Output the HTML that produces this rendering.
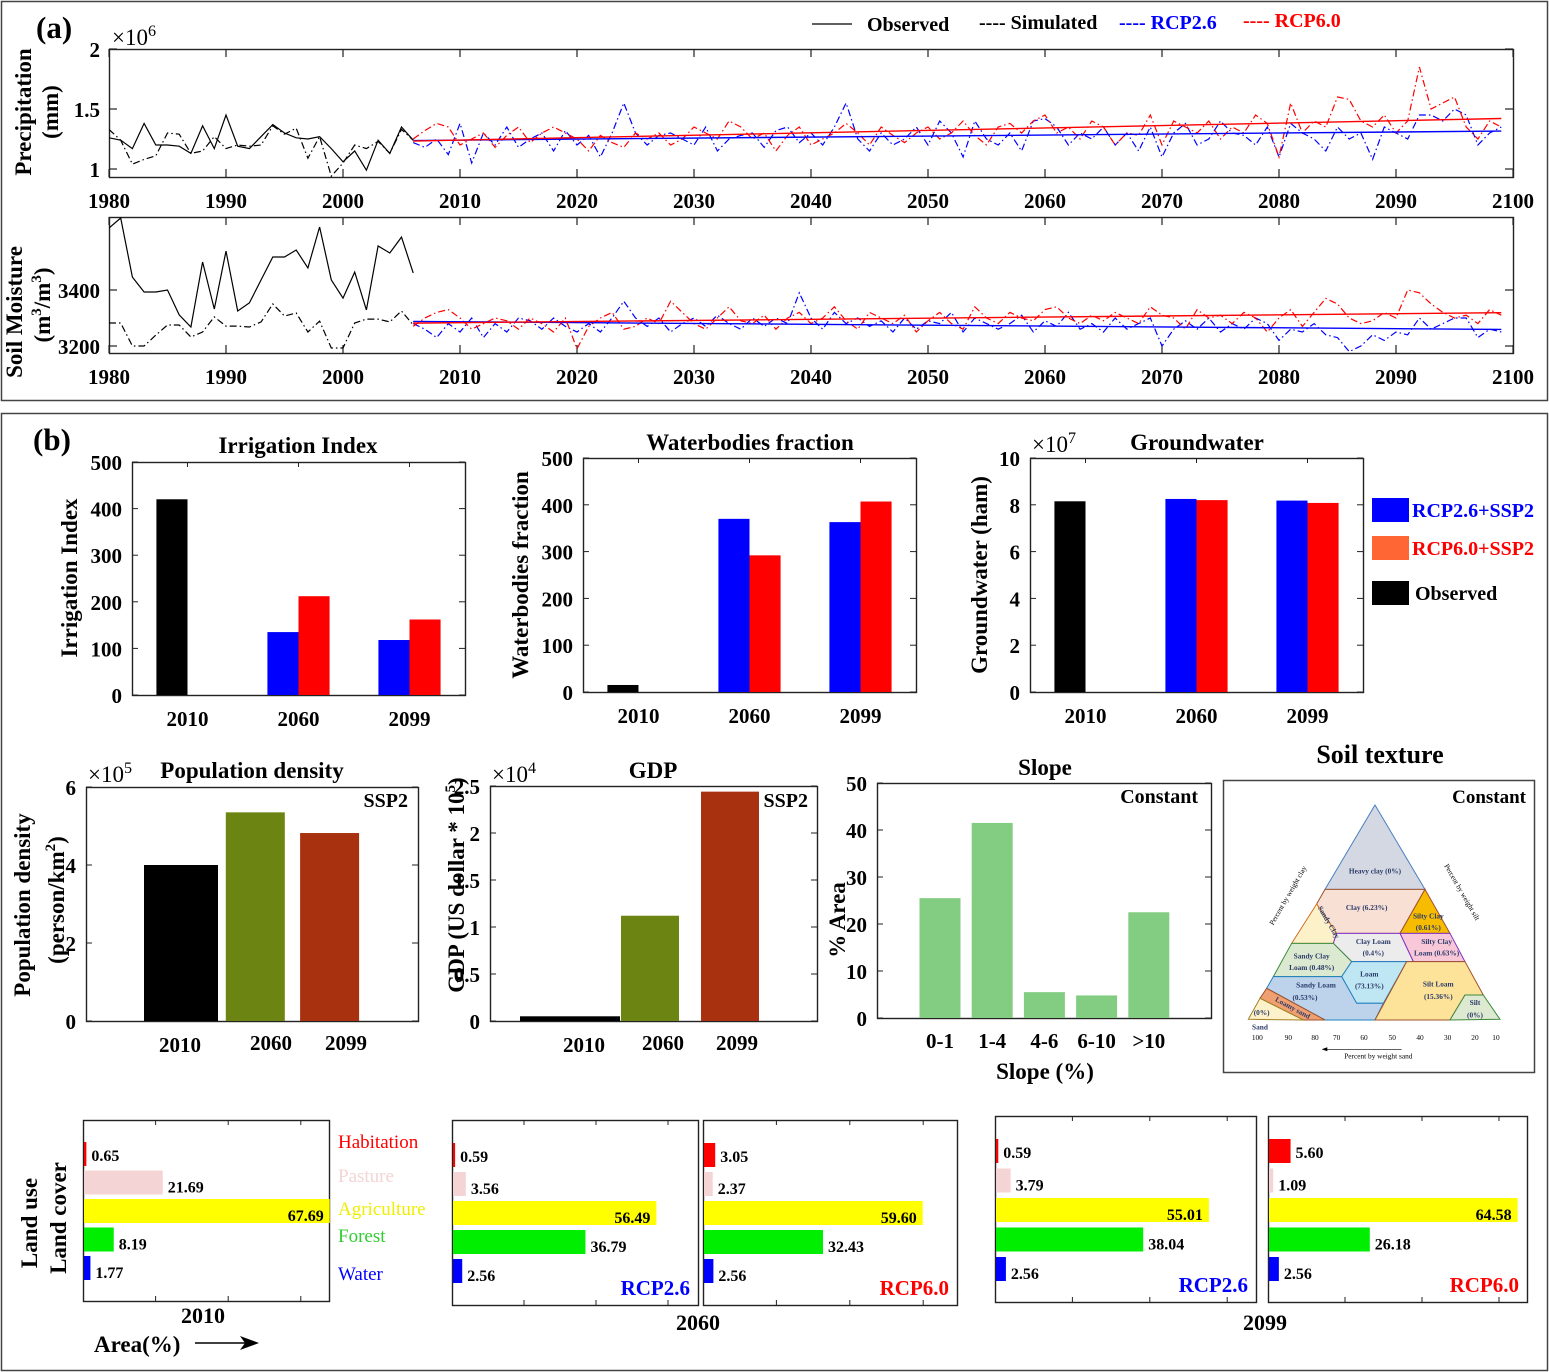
<!DOCTYPE html>
<html><head><meta charset="utf-8">
<style>
html,body{margin:0;padding:0;background:#fff;}
svg{display:block;font-family:"Liberation Serif",serif;}
</style></head>
<body>
<svg id="fig" xmlns="http://www.w3.org/2000/svg" width="1549" height="1372" viewBox="0 0 1549 1372">
<rect x="0" y="0" width="1549" height="1372" fill="#fff"/>
<rect x="1.5" y="1.5" width="1546" height="399" fill="none" stroke="#444" stroke-width="1.5"/>
<rect x="1.5" y="413.5" width="1546" height="957" fill="none" stroke="#444" stroke-width="1.5"/>
<text x="36" y="38" font-size="31" font-weight="bold">(a)</text>
<text x="33" y="450" font-size="31" font-weight="bold">(b)</text>

<g font-size="20" font-weight="bold">
<line x1="812" y1="24" x2="852" y2="24" stroke="#000" stroke-width="1.3"/>
<text x="867" y="31">Observed</text>
<text x="979" y="29">---- Simulated</text>
<text x="1119" y="29" fill="#0000ff">---- RCP2.6</text>
<text x="1243" y="27" fill="#ff0000">---- RCP6.0</text>
</g>

<!-- Soil texture triangle -->
<rect x="1223.5" y="780.5" width="311" height="292" fill="none" stroke="#444" stroke-width="1.5"/>
<text x="1380" y="763" font-size="26" font-weight="bold" text-anchor="middle">Soil texture</text>
<text x="1526" y="803" font-size="19" font-weight="bold" text-anchor="end">Constant</text>
<g transform="translate(1220,780) scale(0.3333)" stroke-width="3">
<polygon points="465,75 315,328 615,328" fill="#d3d8e2" stroke="#4a7fc0"/>
<polygon points="315,328 615,328 540,460 350,460 290,372" fill="#f8e0d4" stroke="#a0522d"/>
<polygon points="290,372 350,460 340,490 215,490" fill="#fdf1c9" stroke="#d07020"/>
<polygon points="615,328 690,460 540,460" fill="#f7bc00" stroke="#a0522d"/>
<polygon points="540,460 690,460 735,545 580,545" fill="#f8c8d8" stroke="#8030c0"/>
<polygon points="350,460 540,460 580,545 395,545 340,490" fill="#ececec" stroke="#8030c0"/>
<polygon points="215,490 340,490 395,545 365,590 160,590" fill="#dbe9d0" stroke="#3a8a3a"/>
<polygon points="395,545 560,545 490,670 410,670 365,590" fill="#bfe6f3" stroke="#2080c0"/>
<polygon points="160,590 365,590 410,670 490,670 465,720 315,720 140,625" fill="#bdd3ec" stroke="#2080c0"/>
<polygon points="140,625 315,720 250,720 120,655" fill="#f0a070" stroke="#a0522d"/>
<polygon points="120,655 250,720 85,718" fill="#fdf1c9" stroke="#a08020"/>
<polygon points="560,545 735,545 790,645 735,645 690,720 465,720" fill="#fde39a" stroke="#a0522d"/>
<polygon points="735,645 790,645 840,718 690,720" fill="#dde9d0" stroke="#3a8a3a"/>
<g font-size="22" font-weight="bold" fill="#2a3a6a" text-anchor="middle" stroke="none">
<text x="465" y="280">Heavy clay (0%)</text>
<text x="440" y="390">Clay (6.23%)</text>
<text x="625" y="415">Silty Clay</text>
<text x="625" y="450">(0.61%)</text>
<text x="460" y="492">Clay Loam</text>
<text x="460" y="527">(0.4%)</text>
<text x="650" y="492">Silty Clay</text>
<text x="650" y="527">Loam (0.63%)</text>
<text x="275" y="535">Sandy Clay</text>
<text x="275" y="570">Loam (0.48%)</text>
<text x="448" y="590">Loam</text>
<text x="448" y="625">(73.13%)</text>
<text x="288" y="622">Sandy Loam</text>
<text x="255" y="660">(0.53%)</text>
<text x="655" y="620">Silt Loam</text>
<text x="655" y="657">(15.36%)</text>
<text x="765" y="675">Silt</text>
<text x="765" y="712">(0%)</text>
<text x="120" y="748">Sand</text>
<text x="125" y="705">(0%)</text>
<text x="215" y="690" transform="rotate(28 215 690)">Loamy sand</text>
<text x="320" y="430" transform="rotate(60 320 430)">Sandy Clay</text>
</g>
<g font-size="22" fill="#000" stroke="none" text-anchor="middle">
<text x="112" y="780">100</text>
<text x="205" y="780">90</text>
<text x="285" y="780">80</text>
<text x="350" y="780">70</text>
<text x="432" y="780">60</text>
<text x="517" y="780">50</text>
<text x="600" y="780">40</text>
<text x="683" y="780">30</text>
<text x="765" y="780">20</text>
<text x="828" y="780">10</text>
<text x="475" y="835">Percent by weight sand</text>
<text x="210" y="350" transform="rotate(-60 210 350)">Percent by weight clay</text>
<text x="720" y="340" transform="rotate(60 720 340)">Percent by weight silt</text>
</g>
<line x1="545" y1="808" x2="315" y2="808" stroke="#000" stroke-width="2"/>
<polygon points="305,808 322,802 322,814" fill="#000" stroke="none"/>
</g>
</svg>
<script>
// ---------- DATA ----------
const obsYears = [1980,1981,1982,1983,1984,1985,1986,1987,1988,1989,1990,1991,1992,1993,1994,1995,1996,1997,1998,1999,2000,2001,2002,2003,2004,2005,2006];
const precipObserved = [1.26,1.24,1.17,1.38,1.20,1.20,1.19,1.13,1.36,1.17,1.45,1.19,1.17,1.27,1.37,1.30,1.26,1.25,1.27,1.17,1.06,1.15,0.99,1.24,1.13,1.35,1.24];
const precipSimulated = [1.33,1.24,1.04,1.08,1.11,1.30,1.29,1.13,1.15,1.27,1.17,1.20,1.19,1.20,1.36,1.29,1.34,1.09,1.27,0.94,1.05,1.20,1.17,1.23,1.13,1.33,1.24];
const futStartYear = 2006;
const precipRcp26 = [1.22,1.18,1.25,1.12,1.38,1.05,1.30,1.20,1.35,1.18,
1.25,1.30,1.15,1.32,1.20,1.28,1.10,1.30,1.55,1.30,
1.20,1.28,1.30,1.25,1.20,1.35,1.15,1.25,1.28,1.30,
1.18,1.32,1.35,1.22,1.30,1.20,1.35,1.55,1.25,1.15,
1.30,1.20,1.25,1.35,1.20,1.40,1.30,1.10,1.40,1.25,
1.20,1.30,1.15,1.40,1.42,1.35,1.20,1.30,1.25,1.35,
1.20,1.30,1.15,1.35,1.10,1.30,1.38,1.20,1.25,1.40,
1.30,1.28,1.20,1.35,1.10,1.38,1.30,1.25,1.15,1.35,
1.25,1.30,1.08,1.35,1.30,1.25,1.45,1.45,1.40,1.50,
1.45,1.20,1.30,1.35];
const precipRcp60 = [1.25,1.32,1.38,1.35,1.20,1.25,1.30,1.18,1.28,1.35,
1.22,1.30,1.35,1.30,1.25,1.15,1.28,1.22,1.18,1.30,
1.25,1.30,1.20,1.25,1.35,1.30,1.25,1.40,1.35,1.25,
1.30,1.15,1.28,1.35,1.20,1.25,1.30,1.38,1.30,1.20,
1.35,1.28,1.22,1.30,1.35,1.25,1.30,1.40,1.28,1.20,
1.35,1.38,1.30,1.40,1.45,1.30,1.35,1.25,1.40,1.35,
1.20,1.30,1.28,1.45,1.20,1.40,1.35,1.30,1.40,1.25,
1.35,1.30,1.45,1.38,1.10,1.55,1.30,1.40,1.35,1.60,
1.58,1.40,1.35,1.45,1.30,1.40,1.85,1.50,1.55,1.60,
1.35,1.25,1.40,1.35];
const soilObserved = [3621,3657,3446,3393,3393,3400,3311,3268,3500,3332,3539,3325,3354,3436,3518,3518,3543,3479,3625,3436,3371,3464,3329,3557,3532,3589,3461];
const soilSimulated = [3282,3282,3200,3200,3239,3275,3275,3232,3250,3304,3271,3271,3268,3286,3350,3307,3318,3250,3289,3193,3193,3282,3296,3296,3286,3325,3275];
const soilRcp26 = [3280,3260,3230,3280,3250,3300,3230,3280,3250,3300,
3290,3260,3300,3270,3250,3280,3250,3300,3360,3300,
3270,3300,3250,3280,3300,3270,3310,3280,3260,3300,
3270,3300,3280,3390,3300,3260,3320,3280,3300,3270,
3290,3250,3300,3260,3290,3280,3320,3250,3300,3280,
3260,3280,3310,3250,3290,3270,3320,3260,3280,3250,
3300,3260,3280,3300,3200,3260,3290,3260,3300,3250,
3280,3260,3300,3280,3220,3260,3250,3280,3240,3230,
3180,3200,3240,3220,3250,3240,3300,3260,3280,3300,
3300,3230,3260,3250];
const soilRcp60 = [3270,3300,3320,3330,3300,3260,3280,3300,3290,3260,
3300,3280,3250,3300,3190,3270,3300,3320,3260,3270,
3300,3280,3360,3320,3280,3260,3300,3340,3290,3280,
3310,3260,3300,3320,3280,3300,3340,3290,3260,3320,
3300,3280,3310,3250,3290,3320,3280,3260,3340,3300,
3280,3320,3300,3290,3330,3340,3300,3280,3310,3290,
3320,3300,3280,3340,3310,3300,3260,3330,3300,3310,
3280,3320,3300,3250,3300,3330,3270,3320,3370,3350,
3300,3280,3290,3320,3300,3400,3390,3350,3320,3300,
3310,3280,3330,3310];
const yearTicks = [1980,1990,2000,2010,2020,2030,2040,2050,2060,2070,2080,2090,2100];
const precipTicks = [1,1.5,2];
const precipTickLabels = ["1","1.5","2"];
const soilTicks = [3200,3400];

const barCats = ["2010","2060","2099"];
const irrObserved = [420,null,null];
const irrRcp26 = [null,135,118];
const irrRcp60 = [null,212,162];
const irrTicks = [0,100,200,300,400,500];
const wbObserved = [15,null,null];
const wbRcp26 = [null,370,363];
const wbRcp60 = [null,292,407];
const wbTicks = [0,100,200,300,400,500];
const gwObserved = [8.15,null,null];
const gwRcp26 = [null,8.25,8.18];
const gwRcp60 = [null,8.2,8.08];
const gwTicks = [0,2,4,6,8,10];
const popValues = [4.0,5.35,4.82];
const popTicks = [0,2,4,6];
const gdpValues = [0.05,1.12,2.44];
const gdpTicks = [0,0.5,1,1.5,2,2.5];
const gdpTickLabels = ["0","0.5","1","1.5","2","2.5"];
const slopeCats = ["0-1","1-4","4-6","6-10",">10"];
const slopeValues = [25.5,41.5,5.5,4.8,22.5];
const slopeTicks = [0,10,20,30,40,50];

const luClasses = ["Habitation","Pasture","Agriculture","Forest","Water"];
const lu2010 = [0.65,21.69,67.69,8.19,1.77];
const lu2060Rcp26 = [0.59,3.56,56.49,36.79,2.56];
const lu2060Rcp60 = [3.05,2.37,59.60,32.43,2.56];
const lu2099Rcp26 = [0.59,3.79,55.01,38.04,2.56];
const lu2099Rcp60 = [5.60,1.09,64.58,26.18,2.56];
const luLabels2010 = ["0.65","21.69","67.69","8.19","1.77"];
const luLabels2060Rcp26 = ["0.59","3.56","56.49","36.79","2.56"];
const luLabels2060Rcp60 = ["3.05","2.37","59.60","32.43","2.56"];
const luLabels2099Rcp26 = ["0.59","3.79","55.01","38.04","2.56"];
const luLabels2099Rcp60 = ["5.60","1.09","64.58","26.18","2.56"];

// ---------- HELPERS ----------
const NS = "http://www.w3.org/2000/svg";
const svg = document.getElementById("fig");
function mk(tag, attrs, name, parent) {
  const el = document.createElementNS(NS, tag);
  for (const k in attrs) el.setAttribute(k, attrs[k]);
  
  
  (parent || svg).appendChild(el);
  return el;
}
function txt(x, y, s, attrs, name, parent) {
  const a = Object.assign({x: x, y: y, "font-weight": "bold", "font-size": 21}, attrs || {});
  const el = mk("text", a, name, parent);
  el.textContent = s;
  return el;
}
function frame(x0, y0, x1, y1, name) {
  mk("rect", {x: x0 + .5, y: y0 + .5, width: x1 - x0, height: y1 - y0, fill: "none", stroke: "#222", "stroke-width": 1.4}, name);
}
function sup(el, base, supTxt) {
  el.textContent = "";
  const t1 = document.createElementNS(NS, "tspan"); t1.textContent = base; el.appendChild(t1);
  const t2 = document.createElementNS(NS, "tspan"); t2.textContent = supTxt;
  t2.setAttribute("dy", "-9"); t2.setAttribute("font-size", "0.7em"); el.appendChild(t2);
}

// ---------- PANEL (a) ----------
const AX0 = 109, AX1 = 1513;
const xYear = y => AX0 + (y - 1980) * (AX1 - AX0) / 120;
const yPrec = v => 169 - (v - 1) * 120;
const ySoil = v => 290 - (v - 3400) * 0.28;

function tsAxes(top, bot, yfun, ticks, labels, prefix, labelY) {
  frame(AX0, top, AX1, bot, prefix + "-axes-frame");
  yearTicks.forEach(yr => {
    const x = xYear(yr);
    mk("line", {x1: x, y1: bot, x2: x, y2: bot - 8, stroke: "#222", "stroke-width": 1.2}, prefix + "-xtick", null);
    mk("line", {x1: x, y1: top, x2: x, y2: top + 8, stroke: "#222", "stroke-width": 1.2}, prefix + "-xtick-top", null);
    txt(x, labelY, String(yr), {"text-anchor": "middle", "font-size": 21}, prefix + "-xtick-label-" + yr);
  });
  ticks.forEach((t, i) => {
    const y = yfun(t);
    mk("line", {x1: AX0, y1: y, x2: AX0 + 8, y2: y, stroke: "#222", "stroke-width": 1.2}, prefix + "-ytick", null);
    mk("line", {x1: AX1, y1: y, x2: AX1 - 8, y2: y, stroke: "#222", "stroke-width": 1.2}, prefix + "-ytick-right", null);
    txt(100, y + 8, labels[i], {"text-anchor": "end", "font-size": 21}, prefix + "-ytick-label-" + labels[i]);
  });
}
function series(years, vals, yfun, style, name, clip) {
  const pts = vals.map((v, i) => xYear(years(i)) + "," + yfun(v).toFixed(1)).join(" ");
  const a = Object.assign({points: pts, fill: "none", "stroke-width": 1.2, "clip-path": clip}, style);
  mk("polyline", a, name);
}
function trend(vals, yfun, color, name, clip) {
  const n = vals.length; let sx = 0, sy = 0, sxx = 0, sxy = 0;
  vals.forEach((v, i) => { const x = futStartYear + i; sx += x; sy += v; sxx += x * x; sxy += x * v; });
  const b = (n * sxy - sx * sy) / (n * sxx - sx * sx); const a = (sy - b * sx) / n;
  const x1 = futStartYear, x2 = futStartYear + n - 1;
  mk("line", {x1: xYear(x1), y1: yfun(a + b * x1), x2: xYear(x2), y2: yfun(a + b * x2), stroke: color, "stroke-width": 1.4, "clip-path": clip}, name);
}
const defs = mk("defs", {}, "defs");
const cp1 = mk("clipPath", {id: "clipP"}, "precip-clip", defs);
mk("rect", {x: AX0, y: 50, width: AX1 - AX0, height: 127}, "precip-clip-rect", cp1);
const cp2 = mk("clipPath", {id: "clipS"}, "soil-clip", defs);
mk("rect", {x: AX0, y: 217, width: AX1 - AX0, height: 136}, "soil-clip-rect", cp2);

tsAxes(49, 177, yPrec, precipTicks, precipTickLabels, "precip", 208);
tsAxes(217, 353, ySoil, soilTicks, soilTicks.map(String), "soil", 384);

const obsY = i => obsYears[i];
const futY = i => futStartYear + i;
const dashDot = "7,3,1.5,3";
series(futY, precipRcp26, yPrec, {stroke: "#0000ff", "stroke-dasharray": dashDot}, "precip-rcp26-line", "url(#clipP)");
series(futY, precipRcp60, yPrec, {stroke: "#ff0000", "stroke-dasharray": dashDot}, "precip-rcp60-line", "url(#clipP)");
trend(precipRcp26, yPrec, "#0000ff", "precip-rcp26-trend", "url(#clipP)");
trend(precipRcp60, yPrec, "#ff0000", "precip-rcp60-trend", "url(#clipP)");
series(obsY, precipSimulated, yPrec, {stroke: "#000", "stroke-dasharray": dashDot}, "precip-simulated-line", "url(#clipP)");
series(obsY, precipObserved, yPrec, {stroke: "#000"}, "precip-observed-line", "url(#clipP)");
series(futY, soilRcp26, ySoil, {stroke: "#0000ff", "stroke-dasharray": dashDot}, "soil-rcp26-line", "url(#clipS)");
series(futY, soilRcp60, ySoil, {stroke: "#ff0000", "stroke-dasharray": dashDot}, "soil-rcp60-line", "url(#clipS)");
trend(soilRcp26, ySoil, "#0000ff", "soil-rcp26-trend", "url(#clipS)");
trend(soilRcp60, ySoil, "#ff0000", "soil-rcp60-trend", "url(#clipS)");
series(obsY, soilSimulated, ySoil, {stroke: "#000", "stroke-dasharray": dashDot}, "soil-simulated-line", "url(#clipS)");
series(obsY, soilObserved, ySoil, {stroke: "#000"}, "soil-observed-line", "url(#clipS)");

const e6 = txt(112, 45, "", {"font-weight": "normal", "font-size": 23}, "precip-exponent");
sup(e6, "×10", "6");
txt(0, 0, "Precipitation", {"text-anchor": "middle", "font-size": 23, transform: "translate(31,112) rotate(-90)"}, "precip-y-title");
txt(0, 0, "(mm)", {"text-anchor": "middle", "font-size": 23, transform: "translate(58,112) rotate(-90)"}, "precip-y-unit");
txt(0, 0, "Soil Moisture", {"text-anchor": "middle", "font-size": 23, transform: "translate(22,312) rotate(-90)"}, "soil-y-title");
const su = txt(0, 0, "", {"text-anchor": "middle", "font-size": 23, transform: "translate(50,305) rotate(-90)"}, "soil-y-unit");
su.innerHTML = '(m<tspan dy="-9" font-size="15">3</tspan><tspan dy="9">/m</tspan><tspan dy="-9" font-size="15">3</tspan><tspan dy="9">)</tspan>';

// ---------- PANEL (b) bar charts ----------
function barAxes(x0, y0, x1, y1, ymax, ticks, tickLabels, prefix) {
  frame(x0, y0, x1, y1, prefix + "-axes-frame");
  const ys = v => y1 - v / ymax * (y1 - y0);
  ticks.forEach((t, i) => {
    const y = ys(t);
    mk("line", {x1: x0, y1: y, x2: x0 + 6, y2: y, stroke: "#222"}, prefix + "-ytick");
    mk("line", {x1: x1, y1: y, x2: x1 - 6, y2: y, stroke: "#222"}, prefix + "-ytick-right");
    txt(x0 - 10, y + 8, tickLabels[i], {"text-anchor": "end", "font-size": 21}, prefix + "-ytick-label");
  });
  return ys;
}
function groupedChart(x0, y0, x1, y1, ymax, ticks, obs, r26, r60, prefix, catY) {
  const ys = barAxes(x0, y0, x1, y1, ymax, ticks, ticks.map(String), prefix);
  const step = (x1 - x0) / barCats.length;
  const bw = step * 0.28;
  const cx = i => x0 + (i + 0.5) * step;
  barCats.forEach((c, i) => {
    mk("line", {x1: cx(i), y1: y0, x2: cx(i), y2: y0 + 5, stroke: "#222"}, prefix + "-xtick");
    txt(cx(i), catY, c, {"text-anchor": "middle", "font-size": 21}, prefix + "-cat-label-" + c);
    if (obs[i] != null) mk("rect", {x: cx(i) - bw, y: ys(obs[i]), width: bw, height: y1 - ys(obs[i]), fill: "#000"}, prefix + "-bar-observed-" + c);
    if (r26[i] != null) mk("rect", {x: cx(i) - bw, y: ys(r26[i]), width: bw, height: y1 - ys(r26[i]), fill: "#0000ff"}, prefix + "-bar-rcp26-" + c);
    if (r60[i] != null) mk("rect", {x: cx(i), y: ys(r60[i]), width: bw, height: y1 - ys(r60[i]), fill: "#ff0000"}, prefix + "-bar-rcp60-" + c);
  });
}
groupedChart(132, 462, 465, 695, 500, irrTicks, irrObserved, irrRcp26, irrRcp60, "irrigation", 726);
txt(298, 453, "Irrigation Index", {"text-anchor": "middle", "font-size": 23}, "irrigation-title");
txt(0, 0, "Irrigation Index", {"text-anchor": "middle", "font-size": 23, transform: "translate(77,578) rotate(-90)"}, "irrigation-y-title");

groupedChart(583, 458, 916, 692, 500, wbTicks, wbObserved, wbRcp26, wbRcp60, "waterbodies", 723);
txt(750, 450, "Waterbodies fraction", {"text-anchor": "middle", "font-size": 23}, "waterbodies-title");
txt(0, 0, "Waterbodies fraction", {"text-anchor": "middle", "font-size": 23, transform: "translate(528,575) rotate(-90)"}, "waterbodies-y-title");

groupedChart(1030, 458, 1363, 692, 10, gwTicks, gwObserved, gwRcp26, gwRcp60, "groundwater", 723);
txt(1197, 450, "Groundwater", {"text-anchor": "middle", "font-size": 23}, "groundwater-title");
const e7 = txt(1032, 452, "", {"font-weight": "normal", "font-size": 23}, "groundwater-exponent"); sup(e7, "×10", "7");
txt(0, 0, "Groundwater (ham)", {"text-anchor": "middle", "font-size": 23, transform: "translate(987,575) rotate(-90)"}, "groundwater-y-title");

// legend for grouped bars
mk("rect", {x: 1372, y: 498, width: 37, height: 24, fill: "#0000ff"}, "legend-rcp26-ssp2-swatch");
txt(1412, 517, "RCP2.6+SSP2", {fill: "#0000ff", "font-size": 20}, "legend-rcp26-ssp2");
mk("rect", {x: 1372, y: 536, width: 37, height: 24, fill: "#ff6633"}, "legend-rcp60-ssp2-swatch");
txt(1412, 555, "RCP6.0+SSP2", {fill: "#ff0000", "font-size": 20}, "legend-rcp60-ssp2");
mk("rect", {x: 1372, y: 581, width: 37, height: 24, fill: "#000"}, "legend-observed-swatch");
txt(1415, 600, "Observed", {"font-size": 20}, "legend-observed-bar");

// Population density
const barColors = ["#000000", "#6b8412", "#a83210"];
(function () {
  const x0 = 86, y0 = 787, x1 = 418, y1 = 1021;
  const ys = barAxes(x0, y0, x1, y1, 6, popTicks, popTicks.map(String), "population");
  const cx = i => 181 + i * 74.3;
  const bw = i => i === 0 ? 74 : 59;
  barCats.forEach((c, i) => {
    mk("rect", {x: cx(i) - bw(i) / 2, y: ys(popValues[i]), width: bw(i), height: y1 - ys(popValues[i]), fill: barColors[i]}, "population-bar-" + c);
  });
  txt(180, 1052, "2010", {"text-anchor": "middle"}, "population-cat-2010");
  txt(271, 1050, "2060", {"text-anchor": "middle"}, "population-cat-2060");
  txt(346, 1050, "2099", {"text-anchor": "middle"}, "population-cat-2099");
  txt(408, 807, "SSP2", {"text-anchor": "end", "font-size": 20}, "population-ssp2-label");
})();
txt(252, 778, "Population density", {"text-anchor": "middle", "font-size": 23}, "population-title");
const e5 = txt(88, 782, "", {"font-weight": "normal", "font-size": 23}, "population-exponent"); sup(e5, "×10", "5");
txt(0, 0, "Population density", {"text-anchor": "middle", "font-size": 23, transform: "translate(30,905) rotate(-90)"}, "population-y-title");
const pu = txt(0, 0, "", {"text-anchor": "middle", "font-size": 23, transform: "translate(64,900) rotate(-90)"}, "population-y-unit");
pu.innerHTML = '(person/km<tspan dy="-9" font-size="15">2</tspan><tspan dy="9">)</tspan>';

// GDP
(function () {
  const x0 = 490, y0 = 786, x1 = 817, y1 = 1021;
  const ys = barAxes(x0, y0, x1, y1, 2.5, gdpTicks, gdpTickLabels, "gdp");
  const cx = i => 570 + i * 80;
  const bw = i => i === 0 ? 100 : 58;
  barCats.forEach((c, i) => {
    mk("rect", {x: cx(i) - bw(i) / 2, y: ys(gdpValues[i]), width: bw(i), height: y1 - ys(gdpValues[i]), fill: barColors[i]}, "gdp-bar-" + c);
  });
  txt(584, 1052, "2010", {"text-anchor": "middle"}, "gdp-cat-2010");
  txt(663, 1050, "2060", {"text-anchor": "middle"}, "gdp-cat-2060");
  txt(737, 1050, "2099", {"text-anchor": "middle"}, "gdp-cat-2099");
  txt(808, 807, "SSP2", {"text-anchor": "end", "font-size": 20}, "gdp-ssp2-label");
})();
txt(653, 778, "GDP", {"text-anchor": "middle", "font-size": 23}, "gdp-title");
const e4 = txt(492, 782, "", {"font-weight": "normal", "font-size": 23}, "gdp-exponent"); sup(e4, "×10", "4");
const gu = txt(0, 0, "", {"text-anchor": "middle", "font-size": 23, transform: "translate(464,885) rotate(-90)"}, "gdp-y-title");
gu.innerHTML = 'GDP (US dollar * 10<tspan dy="-9" font-size="15">5</tspan><tspan dy="9">)</tspan>';

// Slope
(function () {
  const x0 = 877, y0 = 783, x1 = 1211, y1 = 1018;
  const ys = barAxes(x0, y0, x1, y1, 50, slopeTicks, slopeTicks.map(String), "slope");
  const step = 52.2;
  const cx = i => 940 + i * step;
  slopeCats.forEach((c, i) => {
    mk("rect", {x: cx(i) - 20.5, y: ys(slopeValues[i]), width: 41, height: y1 - ys(slopeValues[i]), fill: "#82cd82"}, "slope-bar-" + c);
    txt(cx(i), 1048, c, {"text-anchor": "middle"}, "slope-cat-" + c);
  });
})();
txt(1045, 775, "Slope", {"text-anchor": "middle", "font-size": 23}, "slope-title");
txt(1198, 803, "Constant", {"text-anchor": "end", "font-size": 20}, "slope-constant-label");
txt(1045, 1079, "Slope (%)", {"text-anchor": "middle", "font-size": 23}, "slope-x-title");
txt(0, 0, "% Area", {"text-anchor": "middle", "font-size": 23, transform: "translate(845,920) rotate(-90)"}, "slope-y-title");

// ---------- Land use panels ----------
const luColors = ["#ff0000", "#f4d4d4", "#ffff00", "#00ee00", "#0000ff"];
function luPanel(x0, y0, x1, y1, pxPer, rowTop, rowStep, vals, labels, prefix, tag, tagColor) {
  frame(x0, y0, x1, y1, prefix + "-frame");
  for (let k = 1; k <= 3; k++) {
    const tx = x0 + k * 20 * pxPer;
    if (tx < x1 - 2) {
      mk("line", {x1: tx, y1: y0, x2: tx, y2: y0 + 5, stroke: "#222"}, prefix + "-xtick-top");
      mk("line", {x1: tx, y1: y1, x2: tx, y2: y1 - 5, stroke: "#222"}, prefix + "-xtick");
    }
  }
  vals.forEach((v, i) => {
    const top = rowTop + i * rowStep;
    const w = Math.min(v * pxPer, x1 - x0);
    mk("rect", {x: x0 + 1, y: top, width: w, height: 24, fill: luColors[i]}, prefix + "-bar-" + luClasses[i].toLowerCase());
    if (i === 2) txt(x0 + w - 5, top + 22, labels[i], {"text-anchor": "end", "font-size": 16}, prefix + "-value-" + luClasses[i].toLowerCase());
    else txt(x0 + w + 6, top + (i === 0 ? 19 : 22), labels[i], {"font-size": 16}, prefix + "-value-" + luClasses[i].toLowerCase());
  });
  if (tag) txt(x1 - 8, y1 - 10, tag, {"text-anchor": "end", "font-size": 21, fill: tagColor}, prefix + "-scenario-label");
}
luPanel(83, 1120, 329, 1301, 3.63, 1142, 28.5, lu2010, luLabels2010, "landuse-2010", "", "");
luPanel(452, 1120, 698, 1305, 3.6, 1143, 29, lu2060Rcp26, luLabels2060Rcp26, "landuse-2060-rcp26", "RCP2.6", "#0000ff");
luPanel(703, 1120, 957, 1305, 3.67, 1143, 29, lu2060Rcp60, luLabels2060Rcp60, "landuse-2060-rcp60", "RCP6.0", "#ff0000");
luPanel(995, 1116, 1256, 1302, 3.87, 1139, 29.5, lu2099Rcp26, luLabels2099Rcp26, "landuse-2099-rcp26", "RCP2.6", "#0000ff");
luPanel(1268, 1116, 1527, 1302, 3.85, 1139, 29.5, lu2099Rcp60, luLabels2099Rcp60, "landuse-2099-rcp60", "RCP6.0", "#ff0000");

const luLegendY = [1148, 1182, 1215, 1242, 1280];
luClasses.forEach((c, i) => {
  txt(338, luLegendY[i], c, {"font-weight": "normal", "font-size": 19, fill: i === 3 ? "#33cc33" : (i === 2 ? "#eeee00" : luColors[i])}, "landuse-legend-" + c.toLowerCase());
});
txt(203, 1323, "2010", {"text-anchor": "middle", "font-size": 22}, "landuse-2010-year");
txt(698, 1330, "2060", {"text-anchor": "middle", "font-size": 22}, "landuse-2060-year");
txt(1265, 1330, "2099", {"text-anchor": "middle", "font-size": 22}, "landuse-2099-year");
txt(94, 1352, "Area(%)", {"font-size": 23}, "landuse-x-title");
mk("line", {x1: 195, y1: 1343, x2: 245, y2: 1343, stroke: "#000", "stroke-width": 1.5}, "area-arrow-line");
mk("polygon", {points: "259,1343 240,1336 245,1343 240,1350", fill: "#000"}, "area-arrow-head");
txt(0, 0, "Land use", {"text-anchor": "middle", "font-size": 23, transform: "translate(37,1223) rotate(-90)"}, "landuse-y-title");
txt(0, 0, "Land cover", {"text-anchor": "middle", "font-size": 23, transform: "translate(66,1218) rotate(-90)"}, "landcover-y-title");
</script>
</body></html>
